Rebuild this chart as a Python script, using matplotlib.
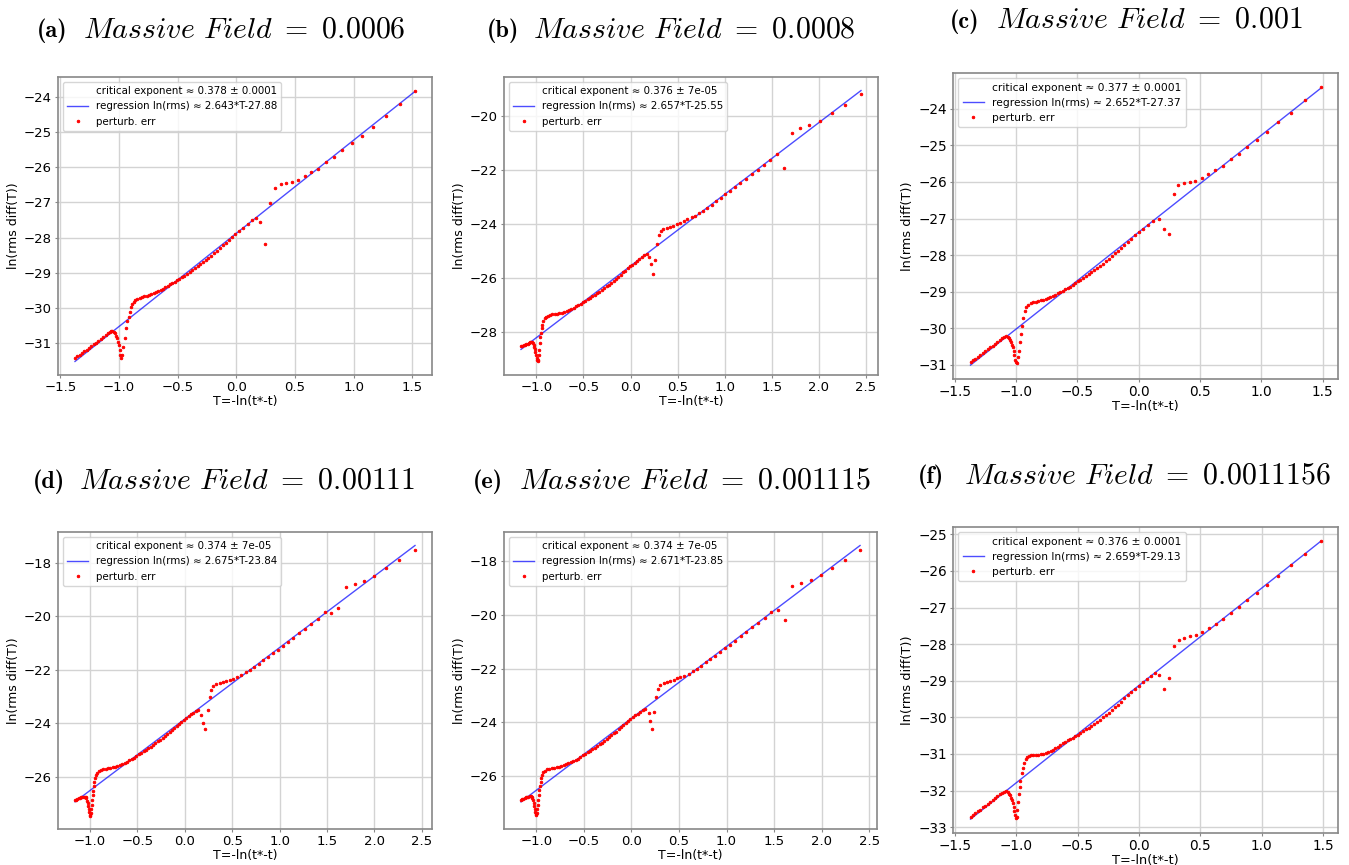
import numpy as np
import matplotlib
matplotlib.use("Agg")
import matplotlib.pyplot as plt
from matplotlib.ticker import MultipleLocator

plt.rcParams["mathtext.fontset"] = "cm"

# %%
# legend / title values
panel_tags = ["a", "b", "c", "d", "e", "f"]
masses = ["0.0006", "0.0008", "0.001", "0.00111", "0.001115", "0.0011156"]
exponents = ["0.378", "0.376", "0.377", "0.374", "0.374", "0.376"]
exponent_errs = ["0.0001", "7e-05", "0.0001", "7e-05", "7e-05", "0.0001"]
slopes = [2.643, 2.657, 2.652, 2.675, 2.671, 2.659]
intercepts = [-27.88, -25.55, -27.37, -23.84, -23.85, -29.13]

# %%
# perturbation error points
xa = [-1.375, -1.355, -1.335, -1.315, -1.295, -1.275, -1.255, -1.235, -1.215, -1.195,
      -1.175, -1.155, -1.135, -1.115, -1.095, -1.080, -1.068, -1.056, -1.045, -1.035,
      -1.025, -1.017, -1.009, -1.002, -0.995, -0.988, -0.982, -0.972, -0.962, -0.952,
      -0.940, -0.928, -0.918, -0.908, -0.898, -0.888, -0.876, -0.862, -0.845, -0.825,
      -0.805, -0.785, -0.765, -0.745, -0.725, -0.705, -0.685, -0.665, -0.645, -0.625,
      -0.605, -0.585, -0.565, -0.545, -0.525, -0.505, -0.485, -0.465, -0.442, -0.420,
      -0.397, -0.374, -0.351, -0.329, -0.306, -0.283, -0.260, -0.238, -0.215, -0.192,
      -0.166, -0.141, -0.115, -0.090, -0.064, -0.036, -0.007, 0.024, 0.055, 0.098,
      0.135, 0.169, 0.206, 0.246, 0.286, 0.331, 0.377, 0.425, 0.474, 0.525,
      0.582, 0.639, 0.695, 0.766, 0.830, 0.901, 0.984, 1.069, 1.168, 1.276,
      1.395, 1.523]
ya = [-31.42, -31.37, -31.33, -31.28, -31.23, -31.18, -31.14, -31.08, -31.03, -30.98,
      -30.93, -30.87, -30.82, -30.77, -30.71, -30.68, -30.66, -30.66, -30.68, -30.72,
      -30.79, -30.86, -30.95, -31.06, -31.20, -31.32, -31.41, -31.33, -31.10, -30.86,
      -30.56, -30.36, -30.24, -30.10, -29.97, -29.88, -29.82, -29.77, -29.74, -29.71,
      -29.69, -29.67, -29.65, -29.63, -29.60, -29.57, -29.54, -29.52, -29.49, -29.45,
      -29.41, -29.37, -29.33, -29.29, -29.25, -29.21, -29.17, -29.13, -29.08, -29.03,
      -28.98, -28.93, -28.87, -28.82, -28.76, -28.70, -28.64, -28.58, -28.51, -28.45,
      -28.37, -28.30, -28.22, -28.15, -28.07, -27.99, -27.90, -27.82, -27.73, -27.62,
      -27.49, -27.44, -27.55, -28.19, -27.03, -26.59, -26.49, -26.46, -26.42, -26.36,
      -26.26, -26.15, -26.05, -25.87, -25.71, -25.52, -25.33, -25.11, -24.85, -24.56,
      -24.22, -23.83]

xb = [-1.164, -1.150, -1.136, -1.122, -1.108, -1.094, -1.080, -1.068, -1.057, -1.047,
      -1.040, -1.030, -1.022, -1.016, -1.010, -1.005, -0.999, -0.994, -0.987, -0.980,
      -0.974, -0.969, -0.963, -0.958, -0.953, -0.946, -0.938, -0.927, -0.913, -0.897,
      -0.878, -0.855, -0.830, -0.805, -0.780, -0.755, -0.730, -0.705, -0.680, -0.655,
      -0.630, -0.605, -0.580, -0.555, -0.530, -0.505, -0.480, -0.455, -0.430, -0.405,
      -0.380, -0.355, -0.330, -0.305, -0.280, -0.255, -0.230, -0.205, -0.180, -0.155,
      -0.130, -0.105, -0.080, -0.055, -0.030, -0.005, 0.020, 0.045, 0.070, 0.095,
      0.120, 0.147, 0.173, 0.200, 0.219, 0.237, 0.262, 0.280, 0.301, 0.322,
      0.350, 0.386, 0.421, 0.456, 0.492, 0.527, 0.563, 0.605, 0.648, 0.690,
      0.732, 0.775, 0.817, 0.863, 0.909, 0.959, 1.008, 1.058, 1.111, 1.168,
      1.224, 1.288, 1.352, 1.419, 1.486, 1.553, 1.635, 1.716, 1.801, 1.900,
      2.013, 2.137, 2.279, 2.449]
yb = [-28.53, -28.51, -28.49, -28.47, -28.45, -28.43, -28.40, -28.38, -28.37, -28.37,
      -28.41, -28.47, -28.55, -28.63, -28.73, -28.84, -28.95, -29.03, -29.09, -29.02,
      -28.85, -28.65, -28.41, -28.20, -28.02, -27.85, -27.73, -27.60, -27.49, -27.43,
      -27.39, -27.36, -27.34, -27.33, -27.32, -27.30, -27.28, -27.25, -27.22, -27.18,
      -27.14, -27.10, -27.05, -27.00, -26.95, -26.89, -26.85, -26.79, -26.73, -26.68,
      -26.62, -26.56, -26.50, -26.44, -26.37, -26.31, -26.24, -26.17, -26.10, -26.02,
      -25.95, -25.87, -25.79, -25.72, -25.64, -25.56, -25.50, -25.43, -25.36, -25.30,
      -25.23, -25.16, -25.10, -25.20, -25.46, -25.85, -25.32, -24.72, -24.39, -24.24,
      -24.19, -24.15, -24.10, -24.05, -24.00, -23.94, -23.88, -23.82, -23.75, -23.68,
      -23.60, -23.50, -23.39, -23.27, -23.15, -23.02, -22.89, -22.76, -22.62, -22.47,
      -22.32, -22.15, -21.98, -21.80, -21.61, -21.41, -21.90, -20.62, -20.43, -20.32,
      -20.16, -19.88, -19.57, -19.17]

xc = [-1.372, -1.352, -1.332, -1.312, -1.292, -1.272, -1.252, -1.232, -1.212, -1.192,
      -1.172, -1.152, -1.132, -1.112, -1.095, -1.082, -1.070,
      -1.059, -1.049, -1.040, -1.033, -1.026, -1.020, -1.014, -1.007, -1.000, -0.991,
      -0.984, -0.977, -0.970, -0.963, -0.956, -0.945, -0.931, -0.918, -0.901, -0.882,
      -0.860, -0.840, -0.820, -0.800, -0.780, -0.760, -0.740, -0.720, -0.700, -0.680,
      -0.660, -0.640, -0.620, -0.600, -0.580,
      -0.560, -0.540, -0.520, -0.498, -0.476, -0.454, -0.432, -0.410, -0.387, -0.364,
      -0.341, -0.318, -0.295, -0.271, -0.247, -0.222, -0.197, -0.171, -0.145, -0.118,
      -0.090, -0.061, -0.031, 0.000, 0.035, 0.071, 0.112, 0.166, 0.207, 0.242,
      0.283, 0.321, 0.370, 0.414, 0.460, 0.512, 0.566, 0.621, 0.683, 0.749,
      0.814, 0.882, 0.964, 1.045, 1.138, 1.241, 1.356, 1.481]
yc = [-30.93, -30.88, -30.83, -30.78, -30.73, -30.68, -30.63, -30.58, -30.52, -30.48,
      -30.43, -30.38, -30.32, -30.28, -30.23, -30.22, -30.23,
      -30.28, -30.33, -30.39, -30.45, -30.52, -30.61, -30.72, -30.86, -30.93, -30.95,
      -30.80, -30.61, -30.38, -30.16, -29.95, -29.72, -29.54, -29.43, -29.36, -29.31,
      -29.28, -29.27, -29.25, -29.23, -29.22, -29.20, -29.18, -29.15, -29.12, -29.09,
      -29.05, -29.01, -28.97, -28.93, -28.90,
      -28.86, -28.81, -28.77, -28.72, -28.67, -28.62, -28.58, -28.53, -28.47, -28.42,
      -28.35, -28.29, -28.23, -28.17, -28.10, -28.03, -27.95, -27.88, -27.80, -27.72,
      -27.64, -27.55, -27.46, -27.37, -27.28, -27.18, -27.08, -27.01, -27.30, -27.41,
      -26.34, -26.09, -26.04, -26.01, -25.96, -25.89, -25.78, -25.68, -25.55, -25.37,
      -25.23, -25.04, -24.84, -24.62, -24.37, -24.10, -23.76, -23.40]

xd = [-1.158, -1.145, -1.132, -1.119, -1.106, -1.093, -1.080, -1.068, -1.057, -1.047,
      -1.038, -1.030, -1.023, -1.017, -1.012, -1.007, -1.002, -0.997, -0.992, -0.987,
      -0.982, -0.977, -0.972, -0.966, -0.960, -0.953, -0.945, -0.935, -0.922, -0.905,
      -0.885, -0.860, -0.835, -0.810, -0.785, -0.760, -0.735, -0.710, -0.685, -0.660,
      -0.635, -0.610, -0.585, -0.560, -0.535,
      -0.510, -0.485, -0.460, -0.435, -0.410, -0.385, -0.360, -0.335, -0.310, -0.285,
      -0.260, -0.235, -0.210, -0.185, -0.160, -0.135, -0.110, -0.085, -0.060, -0.035,
      -0.010, 0.015, 0.040, 0.065, 0.090, 0.115,
      0.140, 0.168, 0.189, 0.218, 0.242, 0.263, 0.281, 0.298,
      0.333, 0.368, 0.404, 0.439, 0.474, 0.509, 0.551, 0.596, 0.642, 0.688,
      0.733, 0.780, 0.828, 0.876, 0.926, 0.978, 1.032, 1.088, 1.146, 1.207,
      1.270, 1.336, 1.404, 1.474, 1.544, 1.621, 1.702, 1.796, 1.895, 2.000,
      2.123, 2.256, 2.428]
yd = [-26.88, -26.86, -26.83, -26.81, -26.79, -26.77, -26.76, -26.75, -26.74, -26.75,
      -26.79, -26.89, -26.98, -27.10, -27.22, -27.33, -27.42, -27.45, -27.36, -27.20,
      -27.05, -26.88, -26.70, -26.52, -26.36, -26.20, -26.06, -25.95, -25.86, -25.79,
      -25.75, -25.72, -25.70, -25.68, -25.66, -25.64, -25.62, -25.59, -25.56, -25.52,
      -25.48, -25.44, -25.39, -25.33, -25.28,
      -25.21, -25.16, -25.10, -25.04, -24.99, -24.93, -24.87, -24.81, -24.75, -24.68,
      -24.62, -24.55, -24.47, -24.41, -24.33, -24.25, -24.17, -24.10, -24.02, -23.94,
      -23.87, -23.80, -23.73, -23.67, -23.60, -23.54,
      -23.50, -23.70, -23.99, -24.21, -23.52, -23.00, -22.75, -22.61,
      -22.53, -22.50, -22.46, -22.42, -22.37, -22.33, -22.27, -22.19, -22.09, -22.00,
      -21.89, -21.77, -21.64, -21.51, -21.38, -21.24, -21.10, -20.95, -20.79, -20.63,
      -20.46, -20.28, -20.10, -19.84, -19.88, -19.68, -18.88, -18.79, -18.66, -18.47,
      -18.20, -17.89, -17.50]

xe = [-1.162, -1.149, -1.136, -1.123, -1.110, -1.097, -1.084, -1.072, -1.061, -1.051,
      -1.042, -1.034, -1.027, -1.021, -1.015, -1.010, -1.005, -1.000, -0.995, -0.990,
      -0.985, -0.980, -0.975, -0.969, -0.963, -0.956, -0.948, -0.938, -0.925, -0.908,
      -0.888, -0.863, -0.838, -0.813, -0.788, -0.763, -0.738, -0.713, -0.688, -0.663,
      -0.638, -0.613, -0.588, -0.563, -0.538,
      -0.510, -0.485, -0.460, -0.435, -0.410, -0.385, -0.360, -0.335, -0.310, -0.285,
      -0.260, -0.235, -0.210, -0.185, -0.160, -0.135, -0.110, -0.085, -0.060, -0.035,
      -0.010, 0.015, 0.040, 0.065, 0.090, 0.117,
      0.147, 0.183, 0.200, 0.218, 0.239, 0.260, 0.284, 0.305,
      0.338, 0.373, 0.409, 0.444, 0.479, 0.515, 0.556, 0.600, 0.645, 0.690,
      0.736, 0.783, 0.830, 0.878, 0.928, 0.980, 1.034, 1.090, 1.148, 1.208,
      1.270, 1.334, 1.400, 1.471, 1.537, 1.615, 1.692, 1.787, 1.885, 1.990,
      2.106, 2.246, 2.404]
ye = [-26.87, -26.85, -26.83, -26.81, -26.79, -26.77, -26.76, -26.75, -26.75, -26.76,
      -26.80, -26.89, -26.98, -27.10, -27.22, -27.33, -27.42, -27.46, -27.38, -27.22,
      -27.06, -26.88, -26.70, -26.52, -26.36, -26.20, -26.06, -25.95, -25.86, -25.79,
      -25.75, -25.72, -25.70, -25.68, -25.66, -25.64, -25.62, -25.59, -25.56, -25.52,
      -25.48, -25.44, -25.40, -25.35, -25.29,
      -25.22, -25.17, -25.11, -25.05, -25.00, -24.94, -24.88, -24.82, -24.76, -24.69,
      -24.62, -24.56, -24.48, -24.41, -24.34, -24.26, -24.18, -24.11, -24.03, -23.95,
      -23.88, -23.81, -23.74, -23.68, -23.61, -23.55,
      -23.51, -23.66, -23.94, -24.25, -23.61, -23.06, -22.77, -22.62,
      -22.53, -22.49, -22.46, -22.41, -22.37, -22.32, -22.27, -22.19, -22.10, -22.01,
      -21.89, -21.77, -21.65, -21.52, -21.39, -21.25, -21.11, -20.96, -20.80, -20.64,
      -20.47, -20.30, -20.12, -19.89, -19.82, -20.21, -18.92, -18.83, -18.72, -18.54,
      -18.27, -17.96, -17.59]

xf = [-1.372, -1.352, -1.332, -1.312, -1.292, -1.272, -1.252, -1.232, -1.212, -1.192,
      -1.172, -1.152, -1.132, -1.112, -1.095, -1.082, -1.070,
      -1.060, -1.050, -1.041, -1.034, -1.027, -1.020, -1.014, -1.008, -1.001, -0.995,
      -0.990, -0.984, -0.979, -0.972, -0.965, -0.954, -0.943, -0.932, -0.921, -0.908,
      -0.893, -0.878, -0.860, -0.840, -0.820, -0.800, -0.780, -0.760, -0.740, -0.720,
      -0.700, -0.680, -0.660, -0.640, -0.620, -0.600, -0.580, -0.560, -0.540,
      -0.520, -0.498, -0.476, -0.454, -0.432, -0.410, -0.387, -0.364, -0.341, -0.318,
      -0.295, -0.271, -0.247, -0.222, -0.197, -0.171, -0.145, -0.118, -0.090, -0.061,
      -0.031, 0.000, 0.033, 0.067, 0.100, 0.130, 0.168, 0.203, 0.243, 0.284,
      0.325, 0.369, 0.415, 0.464, 0.515, 0.570, 0.627, 0.687, 0.752, 0.817,
      0.885, 0.964, 1.045, 1.135, 1.241, 1.355, 1.480]
yf = [-32.73, -32.68, -32.62, -32.57, -32.52, -32.46, -32.41, -32.36, -32.30, -32.25,
      -32.21, -32.15, -32.10, -32.06, -32.03, -32.02, -32.04,
      -32.09, -32.13, -32.19, -32.27, -32.35, -32.45, -32.56, -32.66, -32.74, -32.71,
      -32.52, -32.30, -32.10, -31.90, -31.75, -31.53, -31.37, -31.24, -31.15, -31.09,
      -31.05, -31.04, -31.03, -31.03, -31.02, -31.01, -30.99, -30.97, -30.94, -30.91,
      -30.88, -30.84, -30.80, -30.76, -30.71, -30.66, -30.62, -30.59, -30.56,
      -30.52, -30.47, -30.43, -30.38, -30.33, -30.28, -30.23, -30.17, -30.12, -30.06,
      -29.99, -29.93, -29.87, -29.79, -29.72, -29.65, -29.57, -29.48, -29.40, -29.31,
      -29.22, -29.13, -29.04, -28.95, -28.86, -28.79, -28.83, -29.22, -28.93, -28.06,
      -27.88, -27.84, -27.79, -27.74, -27.67, -27.57, -27.46, -27.30, -27.15, -26.99,
      -26.80, -26.61, -26.38, -26.14, -25.85, -25.53, -25.18]

panels = [(xa, ya), (xb, yb), (xc, yc), (xd, yd), (xe, ye), (xf, yf)]

# %%
W, H = 1349, 865
# axes boxes in pixels: left, top, right, bottom
axes_px = [(58, 77, 432, 375), (504, 77, 878, 375), (953, 73, 1338, 379),
           (58, 532, 432, 829), (504, 532, 877, 829), (953, 527, 1338, 833)]
# title: left edge of "(x)" and baseline, in pixels
title_px = [(37, 37), (487, 37), (950, 28), (33, 488), (473, 488), (918, 483)]
y_steps = [1, 2, 1, 2, 2, 1]
scales = [1.0, 1.0, 1.03, 1.0, 1.0, 1.03]

fig = plt.figure(figsize=(W / 100, H / 100), dpi=100)

for i in range(6):
    l, t, r, b = axes_px[i]
    s = scales[i]
    ax = fig.add_axes([l / W, 1 - b / H, (r - l) / W, (b - t) / H])
    x, y = panels[i]

    ax.plot([], [], " ", label=f"critical exponent ≈ {exponents[i]} ± {exponent_errs[i]}")
    x_ends = np.array([x[0], x[-1]])
    ax.plot(x_ends, slopes[i] * x_ends + intercepts[i], color="blue", alpha=0.7, lw=1.0,
            label=f"regression ln(rms) ≈ {slopes[i]}*T{intercepts[i]}")
    ax.plot(x, y, ".", color="red", ms=3.6, mew=0.7, label="perturb. err")

    ax.xaxis.set_major_locator(MultipleLocator(0.5))
    ax.yaxis.set_major_locator(MultipleLocator(y_steps[i]))
    ax.grid(True, color="#d3d3d3", lw=1.0)
    for sp in ax.spines.values():
        sp.set_color("#888888")
        sp.set_linewidth(1.2)
    ax.tick_params(labelsize=9.5 * s, color="#888888", length=2.5, pad=1.8)
    ax.set_xlabel("T=-ln(t*-t)", fontsize=9.0 * s, labelpad=1.0)
    ax.set_ylabel("ln(rms diff(T))", fontsize=9.0 * s, labelpad=3.0)
    ax.legend(loc="upper left", fontsize=7.4 * s)

    tx, ty = title_px[i]
    fig.text(tx / W, 1 - ty / H, f"({panel_tags[i]})", family="cmb10",
             fontsize=17.5, ha="left", va="baseline")
    fig.text((tx + 46) / W, 1 - ty / H,
             rf"$Massive\ Field\ =\ {masses[i]}$",
             fontsize=21.5, ha="left", va="baseline")

fig.savefig("out.png", dpi=100)
